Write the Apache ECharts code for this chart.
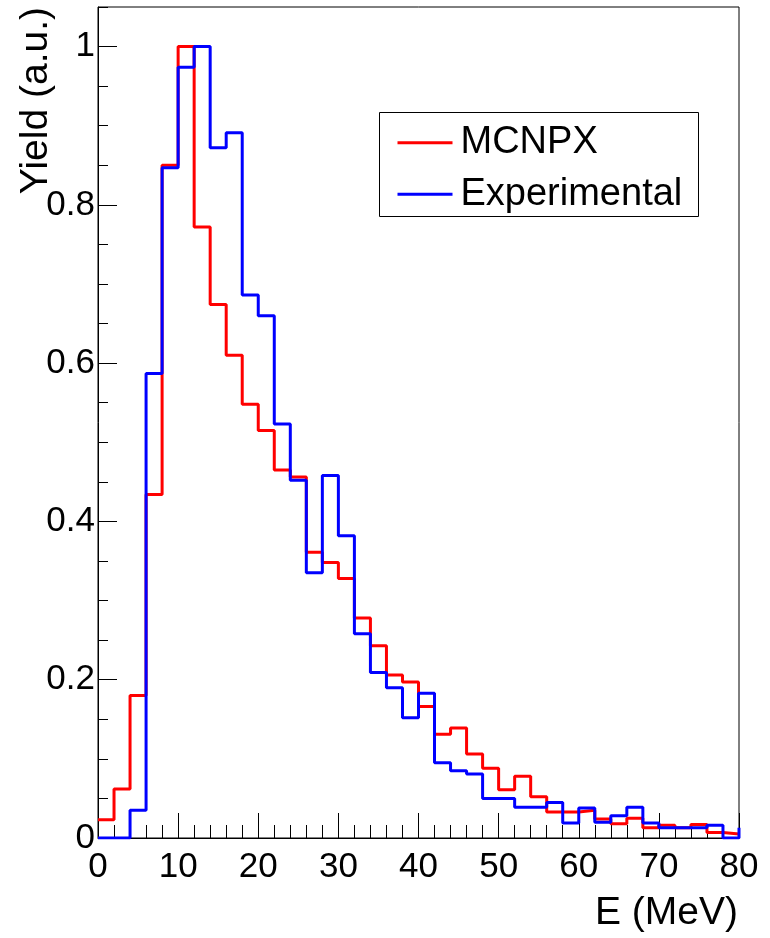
<!DOCTYPE html>
<html>
<head>
<meta charset="utf-8">
<script src="https://cdn.jsdelivr.net/npm/echarts@6/dist/echarts.min.js"></script>
<style>
html,body{margin:0;padding:0;background:#fff;}
#chart{width:770px;height:938px;}
</style>
</head>
<body>
<div id="chart"></div>
<script>
// Bin low edges (MeV), 2 MeV wide bins from 0 to 80
const binLowEdges = [0,2,4,6,8,10,12,14,16,18,20,22,24,26,28,30,32,34,36,38,
                     40,42,44,46,48,50,52,54,56,58,60,62,64,66,68,70,72,74,76,78];
const xUpperEdge = 80;

// MCNPX simulation (normalised yield)
const mcnpx = [0.023,0.062,0.180,0.434,0.850,1.000,0.772,0.674,0.610,0.548,
               0.515,0.465,0.456,0.361,0.348,0.328,0.278,0.243,0.206,0.197,
               0.166,0.131,0.139,0.106,0.088,0.061,0.078,0.052,0.033,0.033,
               0.035,0.024,0.018,0.025,0.013,0.016,0.013,0.017,0.007,0.005];

// Experimental (normalised yield)
const experimental = [0.000,0.000,0.035,0.587,0.847,0.974,1.000,0.872,0.891,0.686,
                      0.660,0.523,0.452,0.335,0.458,0.382,0.258,0.209,0.190,0.152,
                      0.183,0.095,0.085,0.081,0.050,0.050,0.039,0.039,0.045,0.019,
                      0.038,0.020,0.028,0.039,0.019,0.013,0.013,0.013,0.016,0.000];
const experimentalOverflow = 0.013;

const xTickLabels = [0,10,20,30,40,50,60,70,80];
const yTickLabels = [0,0.2,0.4,0.6,0.8,1];

const seriesNames = ['MCNPX','Experimental'];
const xTitle = 'E (MeV)';
const yTitle = 'Yield (a.u.)';

function histPoints(vals, overflow) {
  const pts = binLowEdges.map((x, i) => [x, vals[i]]);
  pts.push([xUpperEdge, vals[vals.length - 1]]);
  if (overflow !== undefined) pts.push([xUpperEdge, overflow]);
  return pts;
}

const FONT = 'Liberation Sans, Arial, Helvetica, sans-serif';
const chart = echarts.init(document.getElementById('chart'), null, {renderer: 'canvas'});

chart.setOption({
  animation: false,
  backgroundColor: '#ffffff',
  grid: {
    left: 98, right: 31, top: 7, bottom: 100,
    containLabel: false, outerBoundsMode: 'none',
    show: true, borderColor: '#000', borderWidth: 1, backgroundColor: 'transparent'
  },
  xAxis: [
    {
      type: 'value', min: 0, max: 80, interval: 10, position: 'bottom',
      axisLine: {show: true, onZero: false, lineStyle: {color: '#000', width: 1}},
      axisTick: {show: true, inside: true, length: 25, lineStyle: {color: '#000', width: 1}},
      axisLabel: {show: true, margin: 12, fontSize: 35, fontFamily: FONT, color: '#000',
                  formatter: v => (xTickLabels.indexOf(v) >= 0 ? String(v) : '')},
      splitLine: {show: false}
    },
    {
      type: 'value', min: 0, max: 80, interval: 2, position: 'bottom',
      axisLine: {show: false},
      axisTick: {show: true, inside: true, length: 13, lineStyle: {color: '#000', width: 1}},
      axisLabel: {show: false},
      splitLine: {show: false}
    }
  ],
  yAxis: [
    {
      type: 'value', min: 0, max: 1.05, interval: 0.2, position: 'left',
      axisLine: {show: true, onZero: false, lineStyle: {color: '#000', width: 1}},
      axisTick: {show: true, inside: true, length: 19, lineStyle: {color: '#000', width: 1}},
      axisLabel: {show: true, margin: 3, fontSize: 35, fontFamily: FONT, color: '#000',
                  showMaxLabel: false,
                  formatter: v => {
                    const m = yTickLabels.find(t => Math.abs(t - v) < 1e-6);
                    return m === undefined ? '' : String(m);
                  }},
      splitLine: {show: false}
    },
    {
      type: 'value', min: 0, max: 1.05, interval: 0.05, position: 'left',
      axisLine: {show: false},
      axisTick: {show: true, inside: true, length: 10, lineStyle: {color: '#000', width: 1}},
      axisLabel: {show: false},
      splitLine: {show: false}
    }
  ],
  legend: {
    show: true, orient: 'vertical', left: 391, top: 117.7,
    itemWidth: 55, itemHeight: 40, itemGap: 11.6,
    itemStyle: {opacity: 0, borderWidth: 0},
    lineStyle: {width: 3, opacity: 1},
    textStyle: {fontSize: 38, fontFamily: FONT, color: '#000', lineHeight: 40, padding: [0, 0, 0, 3]},
    data: seriesNames
  },
  graphic: [
    {
      type: 'rect', z: 0, silent: true,
      shape: {x: 379.5, y: 112.5, width: 319, height: 104},
      style: {fill: '#fff', stroke: '#000', lineWidth: 1}
    },
    {
      type: 'text', silent: true, x: 738, y: 913,
      style: {text: xTitle, fontSize: 39, fontFamily: FONT, fill: '#000',
              align: 'right', verticalAlign: 'middle'}
    },
    {
      type: 'text', silent: true, x: 36, y: 7, rotation: Math.PI / 2,
      style: {text: yTitle, fontSize: 39, fontFamily: FONT, fill: '#000',
              align: 'right', verticalAlign: 'middle'}
    }
  ],
  series: [
    {
      name: seriesNames[0], type: 'line', step: 'end',
      xAxisIndex: 0, yAxisIndex: 0,
      data: histPoints(mcnpx),
      showSymbol: false, symbol: 'none',
      lineStyle: {color: '#ff0000', width: 3},
      itemStyle: {color: '#ff0000'},
      z: 2
    },
    {
      name: seriesNames[1], type: 'line', step: 'end',
      xAxisIndex: 0, yAxisIndex: 0,
      data: histPoints(experimental, experimentalOverflow),
      showSymbol: false, symbol: 'none',
      lineStyle: {color: '#0000ff', width: 3},
      itemStyle: {color: '#0000ff'},
      z: 3
    }
  ]
});
</script>
</body>
</html>
